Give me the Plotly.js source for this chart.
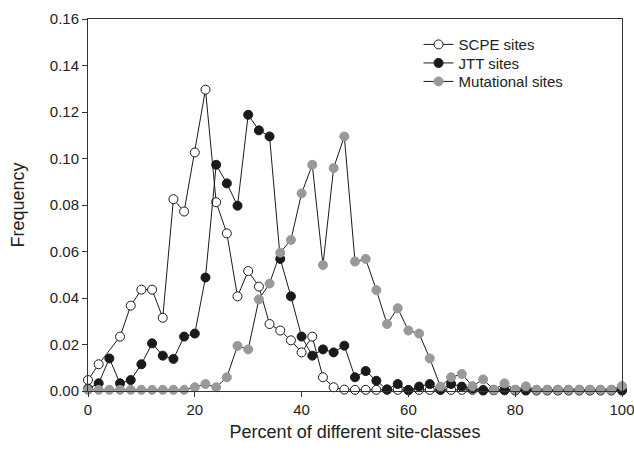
<!DOCTYPE html>
<html>
<head>
<meta charset="utf-8">
<script src="https://cdn.plot.ly/plotly-3.0.1.min.js"></script>
<style>html,body{margin:0;padding:0;background:#fff;}#chart{width:634px;height:451px;}</style>
</head>
<body>
<div id="chart"></div>
<script>
const xValues = [0,2,4,6,8,10,12,14,16,18,20,22,24,26,28,30,32,34,36,38,40,42,44,46,48,50,52,54,56,58,60,62,64,66,68,70,72,74,76,78,80,82,84,86,88,90,92,94,96,98,100];

const scpeSites = [0.0047,0.0115,null,0.0234,0.0367,0.0436,0.0436,0.0315,0.0825,0.0772,
  0.1026,0.1296,0.0812,0.0678,0.0407,0.0516,0.0449,0.0288,0.0260,0.0218,
  0.0166,0.0234,0.0059,0.0016,0.0006,0.0005,0.0005,0.0005,0.0005,0.0005,
  0.0005,0.0005,0.0005,0.0005,0.0005,0.0005,0.0005,0.0005,0.0005,0.0005,
  0.0005,0.0005,0.0005,0.0005,0.0005,0.0005,0.0005,0.0005,0.0005,0.0005,0.0005];

const jttSites = [0.0010,0.0033,0.0140,0.0033,0.0047,0.0115,0.0205,0.0152,0.0138,0.0234,
  0.0247,0.0488,0.0973,0.0893,0.0797,0.1188,0.1121,0.1095,0.0568,0.0407,
  0.0234,0.0152,0.0179,0.0166,0.0195,0.0059,0.0086,0.0044,0.0007,0.0030,
  0.0003,0.0019,0.0030,0.0005,0.0030,0.0019,0.0010,0.0002,0.0003,0.0003,
  0.0002,0.0002,0.0002,0.0002,0.0002,0.0002,0.0002,0.0002,0.0002,0.0002,0.0002];

const mutationalSites = [0.0005,0.0005,0.0005,0.0005,0.0005,0.0005,0.0005,0.0005,0.0005,0.0005,
  0.0016,0.0030,0.0016,0.0059,0.0194,0.0179,0.0394,0.0462,0.0595,0.0650,
  0.0850,0.0973,0.0542,0.0959,0.1095,0.0557,0.0568,0.0434,0.0288,0.0356,
  0.0260,0.0247,0.0140,0.0019,0.0059,0.0073,0.0021,0.0050,0.0005,0.0033,
  0.0005,0.0020,0.0005,0.0005,0.0005,0.0005,0.0005,0.0005,0.0005,0.0005,0.0022];

const seriesNames = ["SCPE sites", "JTT sites", "Mutational sites"];
const xTickVals = [0,20,40,60,80,100];
const yTickVals = [0,0.02,0.04,0.06,0.08,0.10,0.12,0.14,0.16];

const FONT = "Liberation Sans, Arial, Helvetica, sans-serif";
const TXT = "#222222";
const lineStyle = {color: "#1a1a1a", width: 1};

const traces = [
  {x: xValues, y: scpeSites, name: seriesNames[0], legend: "legend", type: "scatter", mode: "lines+markers",
   connectgaps: true, cliponaxis: false, line: lineStyle,
   marker: {symbol: "circle", size: 9, color: "#ffffff", line: {color: "#1a1a1a", width: 1}}},
  {x: xValues, y: jttSites, name: seriesNames[1], legend: "legend2", type: "scatter", mode: "lines+markers",
   cliponaxis: false, line: lineStyle,
   marker: {symbol: "circle", size: 9, color: "#1a1a1a", line: {color: "#1a1a1a", width: 1}}},
  {x: xValues, y: mutationalSites, name: seriesNames[2], legend: "legend3", type: "scatter", mode: "lines+markers",
   cliponaxis: false, line: lineStyle,
   marker: {symbol: "circle", size: 9, color: "#999999", line: {color: "#999999", width: 1}}}
];

function legendAt(yPaper) {
  return {x: 0.619, y: yPaper, xanchor: "left", yanchor: "middle",
    bgcolor: "rgba(0,0,0,0)", borderwidth: 0,
    font: {family: FONT, size: 15, color: TXT}};
}

const layout = {
  width: 634, height: 451,
  margin: {l: 88, r: 12, t: 19, b: 60},
  paper_bgcolor: "#ffffff", plot_bgcolor: "#ffffff",
  font: {family: FONT, size: 15, color: TXT},
  showlegend: true,
  legend: legendAt(0.931),
  legend2: legendAt(0.8812),
  legend3: legendAt(0.8315),
  xaxis: {range: [0, 100], tickvals: xTickVals, ticktext: xTickVals.map(String),
    ticklabeloverflow: "allow", automargin: false,
    showgrid: false, zeroline: false, showline: true, mirror: true,
    linecolor: "#333333", linewidth: 1, ticks: "outside", ticklen: 5, tickcolor: "#333333",
    tickfont: {family: FONT, size: 15, color: TXT},
    title: {text: "Percent of different site-classes", font: {family: FONT, size: 18, color: TXT}, standoff: 8}},
  yaxis: {range: [0, 0.16], tickvals: yTickVals, tickformat: ".2f",
    automargin: false,
    showgrid: false, zeroline: false, showline: true, mirror: true,
    linecolor: "#333333", linewidth: 1, ticks: "outside", ticklen: 5, tickcolor: "#333333",
    tickfont: {family: FONT, size: 15, color: TXT},
    title: {text: "Frequency", font: {family: FONT, size: 18, color: TXT}, standoff: 20}}
};

Plotly.newPlot("chart", traces, layout, {displayModeBar: false, staticPlot: true});
</script>
</body>
</html>
